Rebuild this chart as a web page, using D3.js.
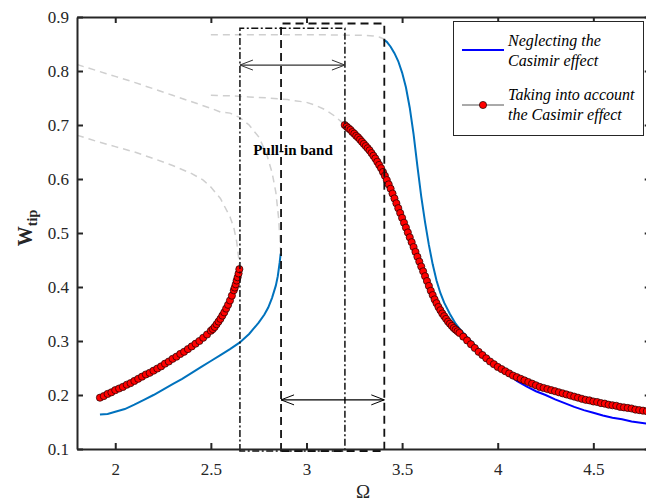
<!DOCTYPE html>
<html>
<head>
<meta charset="utf-8">
<script src="https://cdn.jsdelivr.net/npm/d3@7"></script>
<style>
body { margin: 0; background: #fff; }
svg { display: block; }
svg text { font-family: "Liberation Serif", "Times New Roman", Times, "DejaVu Serif", serif; }
</style>
</head>
<body>
<div id="chart"></div>
<script>
// tick labels
var xTicks = [2, 2.5, 3, 3.5, 4, 4.5];
var yTicks = [0.1, 0.2, 0.3, 0.4, 0.5, 0.6, 0.7, 0.8, 0.9];

// neglecting the Casimir effect - stable branches
var negLeftOmega = [1.92, 1.96, 2.00, 2.05, 2.10, 2.15, 2.20, 2.25, 2.30, 2.35, 2.40, 2.45, 2.50, 2.55, 2.60, 2.65, 2.70, 2.75, 2.78, 2.80, 2.82, 2.84, 2.85, 2.86, 2.865];
var negLeftW     = [0.164, 0.165, 0.169, 0.174, 0.182, 0.191, 0.200, 0.210, 0.220, 0.230, 0.241, 0.252, 0.263, 0.274, 0.285, 0.297, 0.313, 0.334, 0.349, 0.362, 0.380, 0.403, 0.420, 0.446, 0.462];
var negRightOmega = [3.405, 3.42, 3.44, 3.46, 3.48, 3.50, 3.52, 3.54, 3.56, 3.58, 3.60, 3.62, 3.64, 3.66, 3.68, 3.70, 3.72, 3.75, 3.78, 3.80, 3.85, 3.90, 3.95, 4.00];
var negRightW     = [0.858, 0.854, 0.845, 0.833, 0.818, 0.797, 0.770, 0.732, 0.683, 0.624, 0.568, 0.520, 0.478, 0.442, 0.412, 0.389, 0.371, 0.350, 0.332, 0.323, 0.304, 0.285, 0.269, 0.253];
var negTailOmega = [4.00, 4.05, 4.10, 4.15, 4.20, 4.25, 4.30, 4.35, 4.40, 4.45, 4.50, 4.55, 4.60, 4.65, 4.70, 4.78];
var negTailW     = [0.253, 0.241, 0.226, 0.216, 0.207, 0.200, 0.192, 0.185, 0.178, 0.172, 0.167, 0.162, 0.158, 0.155, 0.151, 0.147];

// taking into account the Casimir effect - stable branches
var casLeftOmega = [1.92, 1.94, 1.96, 1.98, 2.00, 2.02, 2.04, 2.06, 2.08, 2.10, 2.12, 2.14, 2.16, 2.18, 2.20, 2.22, 2.24, 2.26, 2.28, 2.30, 2.32, 2.34, 2.36, 2.38, 2.40, 2.42, 2.44, 2.46, 2.48, 2.50, 2.51, 2.52, 2.53, 2.54, 2.55, 2.56, 2.57, 2.58, 2.59, 2.60, 2.61, 2.62, 2.625, 2.63, 2.635, 2.64, 2.645, 2.649];
var casLeftW     = [0.195, 0.198, 0.202, 0.205, 0.209, 0.212, 0.215, 0.219, 0.222, 0.226, 0.230, 0.234, 0.238, 0.241, 0.245, 0.249, 0.253, 0.258, 0.262, 0.267, 0.271, 0.276, 0.280, 0.285, 0.290, 0.295, 0.300, 0.306, 0.312, 0.319, 0.322, 0.326, 0.331, 0.336, 0.341, 0.347, 0.353, 0.360, 0.367, 0.375, 0.384, 0.394, 0.399, 0.405, 0.412, 0.418, 0.425, 0.433];
var casRightOmega = [3.20, 3.21, 3.22, 3.23, 3.24, 3.25, 3.26, 3.27, 3.28, 3.29, 3.30, 3.31, 3.32, 3.33, 3.34, 3.35, 3.36, 3.37, 3.38, 3.39, 3.40, 3.41, 3.42, 3.43, 3.44, 3.45, 3.46, 3.47, 3.48, 3.49, 3.50, 3.51, 3.52, 3.53, 3.54, 3.55, 3.56, 3.57, 3.58, 3.59, 3.60, 3.61, 3.62, 3.63, 3.64, 3.65, 3.66, 3.67, 3.68, 3.69, 3.70, 3.71, 3.72, 3.73, 3.74, 3.75, 3.76, 3.77, 3.78, 3.79, 3.80,
  3.82, 3.84, 3.86, 3.88, 3.90, 3.92, 3.94, 3.96, 3.98, 4.00, 4.02, 4.04, 4.06, 4.08, 4.10, 4.12, 4.14, 4.16, 4.18, 4.20, 4.22, 4.24, 4.26, 4.28, 4.30, 4.32, 4.34, 4.36, 4.38, 4.40, 4.42, 4.44, 4.46, 4.48, 4.50, 4.52, 4.54, 4.56, 4.58, 4.60, 4.62, 4.64, 4.66, 4.68, 4.70, 4.72, 4.74, 4.76, 4.78];
var casRightW     = [0.700, 0.697, 0.694, 0.691, 0.687, 0.684, 0.680, 0.677, 0.673, 0.669, 0.665, 0.661, 0.657, 0.653, 0.648, 0.643, 0.638, 0.632, 0.626, 0.620, 0.613, 0.606, 0.598, 0.590, 0.582, 0.573, 0.564, 0.555, 0.546, 0.537, 0.528, 0.519, 0.510, 0.501, 0.492, 0.483, 0.474, 0.465, 0.456, 0.447, 0.438, 0.429, 0.420, 0.411, 0.402, 0.393, 0.385, 0.377, 0.370, 0.363, 0.357, 0.351, 0.346, 0.341, 0.336, 0.332, 0.328, 0.324, 0.321, 0.318, 0.315,
  0.308, 0.301, 0.294, 0.287, 0.280, 0.274, 0.268, 0.262, 0.257, 0.252, 0.248, 0.244, 0.240, 0.236, 0.233, 0.230, 0.227, 0.224, 0.221, 0.218, 0.215, 0.213, 0.211, 0.209, 0.207, 0.205, 0.203, 0.201, 0.199, 0.197, 0.195, 0.193, 0.191, 0.190, 0.188, 0.187, 0.185, 0.184, 0.182, 0.181, 0.180, 0.178, 0.177, 0.176, 0.175, 0.173, 0.172, 0.171, 0.170];

// unstable branches (grey dashed)
var negUnstOmega = [1.80, 1.90, 2.00, 2.10, 2.20, 2.30, 2.40, 2.50, 2.55, 2.60, 2.65, 2.70, 2.75, 2.79, 2.82, 2.84, 2.855, 2.865];
var negUnstW     = [0.812, 0.801, 0.790, 0.779, 0.767, 0.755, 0.743, 0.731, 0.724, 0.722, 0.714, 0.700, 0.678, 0.648, 0.612, 0.575, 0.525, 0.462];
var casUnstOmega = [1.80, 1.90, 2.00, 2.10, 2.20, 2.30, 2.40, 2.46, 2.50, 2.55, 2.60, 2.62, 2.635, 2.645, 2.649];
var casUnstW     = [0.681, 0.670, 0.660, 0.650, 0.638, 0.625, 0.610, 0.598, 0.585, 0.564, 0.530, 0.510, 0.484, 0.455, 0.433];
var casUpperOmega = [2.50, 2.60, 2.70, 2.80, 2.90, 3.00, 3.05, 3.10, 3.15, 3.201];
var casUpperW     = [0.755, 0.754, 0.752, 0.750, 0.747, 0.742, 0.736, 0.728, 0.716, 0.700];
var negUpperOmega = [2.50, 2.70, 2.90, 3.10, 3.30, 3.35, 3.38, 3.40, 3.405];
var negUpperW     = [0.867, 0.867, 0.867, 0.867, 0.866, 0.865, 0.863, 0.860, 0.858];

// jump frequencies (pull-in bands)
var casBand = [2.652, 3.201];
var negBand = [2.867, 3.407];

var width = 646, height = 502;
var axisColor = "#262626";
var serif = "'Liberation Serif', 'Times New Roman', Times, 'DejaVu Serif', serif";

var svg = d3.select("#chart").append("svg")
    .attr("width", width)
    .attr("height", height)
    .attr("font-family", serif);

var x = d3.scaleLinear().domain([1.8, 4.8]).range([77, 650.7]);
var y = d3.scaleLinear().domain([0.1, 0.9]).range([449, 17]);

svg.append("defs").append("clipPath").attr("id", "plotclip")
    .append("rect")
    .attr("x", x(1.8)).attr("y", y(0.9))
    .attr("width", x(4.8) - x(1.8)).attr("height", y(0.1) - y(0.9));

var line = d3.line().x(function(d) { return x(d[0]); }).y(function(d) { return y(d[1]); });
var plot = svg.append("g").attr("clip-path", "url(#plotclip)");

// grey unstable branches
[[negUnstOmega, negUnstW], [casUnstOmega, casUnstW], [casUpperOmega, casUpperW], [negUpperOmega, negUpperW]].forEach(function(s) {
    plot.append("path")
        .datum(d3.zip(s[0], s[1]))
        .attr("d", line)
        .attr("fill", "none")
        .attr("stroke", "#cfcfcf")
        .attr("stroke-width", 1.5)
        .attr("stroke-dasharray", "7,5");
});

// pull-in band boxes
svg.append("path")
    .attr("d", "M" + x(casBand[0]) + "," + (y(0.1) + 2) + "V" + y(0.879) + "H" + x(casBand[1]) + "V" + (y(0.1) + 2) + "Z")
    .attr("fill", "none").attr("stroke", "#111").attr("stroke-width", 1.5)
    .attr("stroke-dasharray", "7,2.5,2,2.5");
svg.append("path")
    .attr("d", "M" + x(negBand[0]) + "," + (y(0.1) + 2) + "V" + y(0.888) + "H" + x(negBand[1]) + "V" + (y(0.1) + 2) + "Z")
    .attr("fill", "none").attr("stroke", "#111").attr("stroke-width", 1.8)
    .attr("stroke-dasharray", "8,5");

// blue curves
[[negLeftOmega, negLeftW, "#0072bd"], [negRightOmega, negRightW, "#0072bd"], [negTailOmega, negTailW, "#0000ff"]].forEach(function(s) {
    plot.append("path")
        .datum(d3.zip(s[0], s[1]))
        .attr("d", line)
        .attr("fill", "none")
        .attr("stroke", s[2])
        .attr("stroke-width", 2);
});

// red markers
[[casLeftOmega, casLeftW], [casRightOmega, casRightW]].forEach(function(s) {
    var pts = d3.zip(s[0], s[1]);
    plot.append("path").datum(pts).attr("d", line)
        .attr("fill", "none").attr("stroke", "#555").attr("stroke-width", 1);
    plot.selectAll(null).data(pts).enter().append("circle")
        .attr("cx", function(d) { return x(d[0]); })
        .attr("cy", function(d) { return y(d[1]); })
        .attr("r", 3.6)
        .attr("fill", "#ff0000")
        .attr("stroke", "#1a0000")
        .attr("stroke-width", 0.7);
});

// arrows
function arrow(x1, x2, yy, color) {
    svg.append("line").attr("x1", x1).attr("x2", x2).attr("y1", yy).attr("y2", yy)
        .attr("stroke", color).attr("stroke-width", 1.2);
    svg.append("path").attr("d", "M" + (x1 + 13) + "," + (yy - 5) + "L" + x1 + "," + yy + "L" + (x1 + 13) + "," + (yy + 5))
        .attr("fill", "none").attr("stroke", color).attr("stroke-width", 1);
    svg.append("path").attr("d", "M" + (x2 - 13) + "," + (yy - 5) + "L" + x2 + "," + yy + "L" + (x2 - 13) + "," + (yy + 5))
        .attr("fill", "none").attr("stroke", color).attr("stroke-width", 1);
}
arrow(x(casBand[0]), x(casBand[1]), y(0.811), "#333");
arrow(x(negBand[0]), x(negBand[1]), y(0.191), "#000");

svg.append("text")
    .attr("x", 293).attr("y", 155)
    .attr("text-anchor", "middle")
    .attr("font-weight", "bold")
    .attr("font-size", "15px")
    .text("Pull-in band");

// axes (ticks inward, box)
var fmtX = d3.format("~g");
var fmtY = d3.format(".1f");
var gB = svg.append("g").attr("transform", "translate(0," + y(0.1) + ")")
    .call(d3.axisBottom(x).tickValues(xTicks).tickFormat(fmtX).tickSizeInner(-6).tickSizeOuter(0).tickPadding(14));
var gT = svg.append("g").attr("transform", "translate(0," + y(0.9) + ")")
    .call(d3.axisTop(x).tickValues(xTicks).tickFormat("").tickSizeInner(-6).tickSizeOuter(0));
var gL = svg.append("g").attr("transform", "translate(" + x(1.8) + ",0)")
    .call(d3.axisLeft(y).tickValues(yTicks).tickFormat(fmtY).tickSizeInner(-6).tickSizeOuter(0).tickPadding(8));
var gR = svg.append("g").attr("transform", "translate(" + x(4.8) + ",0)")
    .call(d3.axisRight(y).tickValues(yTicks).tickFormat("").tickSizeInner(-6).tickSizeOuter(0));
[gB, gT, gL, gR].forEach(function(g) {
    g.attr("font-family", serif).attr("font-size", 17);
    g.select(".domain").attr("stroke", axisColor).attr("stroke-width", 2);
    g.selectAll(".tick line").attr("stroke", axisColor).attr("stroke-width", 2);
    g.selectAll(".tick text").attr("fill", axisColor);
});

// axis titles
svg.append("text")
    .attr("x", 363).attr("y", 498)
    .attr("text-anchor", "middle")
    .attr("font-size", "19px")
    .attr("fill", axisColor)
    .text("Ω");

var yl = svg.append("text")
    .attr("transform", "translate(32,228) rotate(-90)")
    .attr("text-anchor", "middle")
    .attr("font-weight", "bold")
    .attr("fill", axisColor);
yl.append("tspan").attr("font-size", "20px").text("W");
yl.append("tspan").attr("font-size", "14px").attr("dy", 5).text("tip");

// legend
var lg = svg.append("g");
lg.append("rect")
    .attr("x", 453.5).attr("y", 21.5).attr("width", 190).attr("height", 114)
    .attr("fill", "#fff").attr("stroke", axisColor).attr("stroke-width", 1);
lg.append("line").attr("x1", 462).attr("x2", 504).attr("y1", 50).attr("y2", 50)
    .attr("stroke", "#0000ff").attr("stroke-width", 2);
lg.append("line").attr("x1", 462).attr("x2", 504).attr("y1", 105).attr("y2", 105)
    .attr("stroke", "#555").attr("stroke-width", 1);
lg.append("circle").attr("cx", 483).attr("cy", 105).attr("r", 3.6)
    .attr("fill", "#ff0000").attr("stroke", "#1a0000").attr("stroke-width", 0.7);
var legText = [["Neglecting the", 46], ["Casimir effect", 66], ["Taking into account", 100], ["the Casimir effect", 120]];
legText.forEach(function(t) {
    lg.append("text").attr("x", 508).attr("y", t[1])
        .attr("font-style", "italic").attr("font-size", "16px")
        .attr("fill", "#000").text(t[0]);
});
</script>
</body>
</html>
